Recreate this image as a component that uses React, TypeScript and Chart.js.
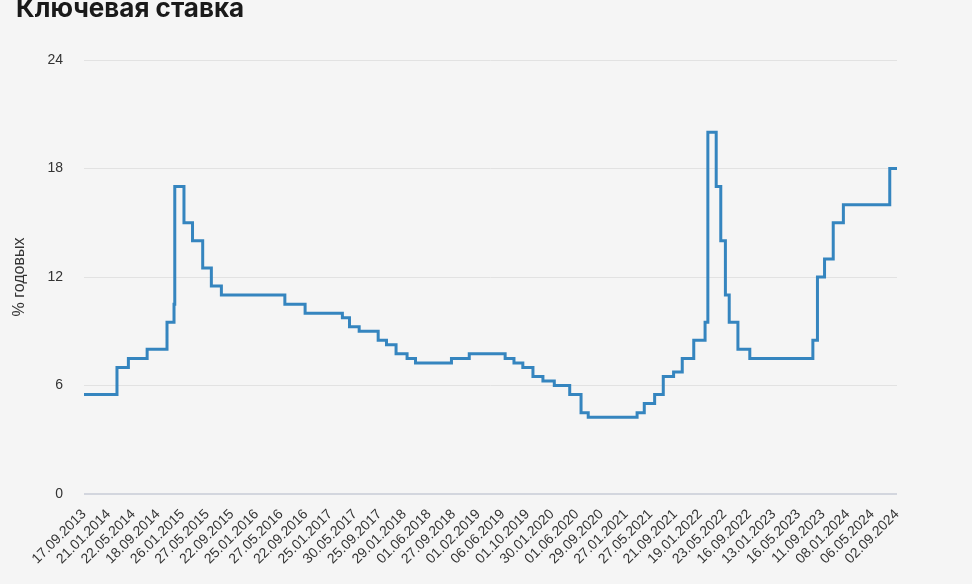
import React, { useEffect, useRef } from "react";
import { Chart, registerables } from "chart.js";

Chart.register(...registerables);

const TITLE = "Ключевая ставка";
const Y_TITLE = "% годовых";

// x-axis tick labels (evenly spaced on the original category axis)
const tickLabels = [
  "17.09.2013", "21.01.2014", "22.05.2014", "18.09.2014", "26.01.2015", "27.05.2015",
  "22.09.2015", "25.01.2016", "27.05.2016", "22.09.2016", "25.01.2017", "30.05.2017",
  "25.09.2017", "29.01.2018", "01.06.2018", "27.09.2018", "01.02.2019", "06.06.2019",
  "01.10.2019", "30.01.2020", "01.06.2020", "29.09.2020", "27.01.2021", "27.05.2021",
  "21.09.2021", "19.01.2022", "23.05.2022", "16.09.2022", "13.01.2023", "16.05.2023",
  "11.09.2023", "08.01.2024", "06.05.2024", "02.09.2024",
];

// dates on which the key rate changed (the rate applies from this date onward)
const changeDates = [
  "17.09.2013", "03.03.2014", "28.04.2014", "28.07.2014", "05.11.2014", "12.12.2014",
  "16.12.2014", "02.02.2015", "16.03.2015", "05.05.2015", "16.06.2015", "03.08.2015",
  "14.06.2016", "19.09.2016", "27.03.2017", "02.05.2017", "19.06.2017", "18.09.2017",
  "30.10.2017", "18.12.2017", "12.02.2018", "26.03.2018", "17.09.2018", "17.12.2018",
  "17.06.2019", "29.07.2019", "09.09.2019", "28.10.2019", "16.12.2019", "10.02.2020",
  "27.04.2020", "22.06.2020", "27.07.2020", "22.03.2021", "26.04.2021", "15.06.2021",
  "26.07.2021", "13.09.2021", "25.10.2021", "20.12.2021", "14.02.2022", "28.02.2022",
  "11.04.2022", "04.05.2022", "27.05.2022", "14.06.2022", "25.07.2022", "19.09.2022",
  "24.07.2023", "15.08.2023", "18.09.2023", "30.10.2023", "18.12.2023", "29.07.2024",
  "02.09.2024",
];

// key rate, % per year
const rates = [
  5.5, 7.0, 7.5, 8.0, 9.5, 10.5,
  17.0, 15.0, 14.0, 12.5, 11.5, 11.0,
  10.5, 10.0, 9.75, 9.25, 9.0, 8.5,
  8.25, 7.75, 7.5, 7.25, 7.5, 7.75,
  7.5, 7.25, 7.0, 6.5, 6.25, 6.0,
  5.5, 4.5, 4.25, 4.5, 5.0, 5.5,
  6.5, 6.75, 7.5, 8.5, 9.5, 20.0,
  17.0, 14.0, 11.0, 9.5, 8.0, 7.5,
  8.5, 12.0, 13.0, 15.0, 16.0, 18.0,
  18.0,
];

const yTicks = [0, 6, 12, 18, 24];

function parseDate(s: string): number {
  const [d, m, y] = s.split(".").map(Number);
  return Date.UTC(y, m - 1, d);
}

// map a date onto the evenly spaced tick index axis
function dateToPos(s: string): number {
  const t = parseDate(s);
  const tk = tickLabels.map(parseDate);
  for (let i = 0; i < tk.length - 1; i++) {
    if (t >= tk[i] && t <= tk[i + 1]) {
      return i + (t - tk[i]) / (tk[i + 1] - tk[i]);
    }
  }
  return t < tk[0] ? 0 : tk.length - 1;
}

const W = 972;
const H = 584;
const BG = "#f5f5f5";

export default function App() {
  const ref = useRef<HTMLCanvasElement | null>(null);

  useEffect(() => {
    if (!ref.current) return;
    const points = changeDates.map((d, i) => ({ x: dateToPos(d), y: rates[i] }));

    const titlePlugin = {
      id: "customTitle",
      beforeDraw(chart: any) {
        const ctx = chart.ctx;
        ctx.save();
        ctx.fillStyle = BG;
        ctx.fillRect(0, 0, chart.width, chart.height);
        ctx.restore();
      },
      afterDraw(chart: any) {
        const ctx = chart.ctx;
        ctx.save();
        ctx.font = "bold 26px Inter, 'Noto Sans', sans-serif";
        ctx.fillStyle = "#1a1a1a";
        ctx.textBaseline = "alphabetic";
        ctx.textAlign = "left";
        ctx.fillText(TITLE, 16, 17);
        ctx.restore();
      },
    };

    const chart = new Chart(ref.current, {
      type: "line",
      data: {
        datasets: [
          {
            data: points,
            stepped: "before",
            borderColor: "#3585bf",
            borderWidth: 3,
            pointRadius: 0,
            fill: false,
          },
        ],
      },
      options: {
        animation: false,
        responsive: false,
        maintainAspectRatio: false,
        layout: { padding: { top: 60, right: 75, left: 0, bottom: 0 } },
        plugins: {
          legend: { display: false },
          tooltip: { enabled: false },
        },
        scales: {
          x: {
            type: "linear",
            min: 0,
            max: tickLabels.length - 1,
            afterBuildTicks: (scale: any) => {
              scale.ticks = tickLabels.map((_, i) => ({ value: i }));
            },
            afterFit: (scale: any) => {
              scale.height = 90;
            },
            grid: { display: false, drawTicks: false },
            border: { display: false },
            ticks: {
              autoSkip: false,
              maxRotation: 45,
              minRotation: 45,
              padding: 12,
              color: "#333",
              font: { family: "'Liberation Sans', Arial, sans-serif", size: 14 },
              callback: (v: any) => tickLabels[Math.round(Number(v))] ?? "",
            },
          },
          y: {
            min: 0,
            max: 24,
            afterBuildTicks: (scale: any) => {
              scale.ticks = yTicks.map((v) => ({ value: v }));
            },
            afterFit: (scale: any) => {
              scale.width = 84;
            },
            grid: {
              color: (c: any) => (c.tick && c.tick.value === 0 ? "#d3d6de" : "#e2e2e2"),
              lineWidth: (c: any) => (c.tick && c.tick.value === 0 ? 2 : 1),
              drawTicks: false,
            },
            border: { display: false },
            ticks: {
              padding: 21,
              color: "#333",
              font: { family: "'Liberation Sans', Arial, sans-serif", size: 14 },
            },
            title: {
              display: true,
              text: Y_TITLE,
              color: "#333",
              padding: { top: 10, bottom: 0 },
              font: { family: "'Liberation Sans', Arial, sans-serif", size: 16 },
            },
          },
        },
      },
      plugins: [titlePlugin],
    });
    return () => chart.destroy();
  }, []);

  return (
    <div style={{ position: "fixed", left: 0, top: 0, width: W, height: H, background: BG }}>
      <canvas ref={ref} width={W} height={H} style={{ display: "block", width: W, height: H }} />
    </div>
  );
}
